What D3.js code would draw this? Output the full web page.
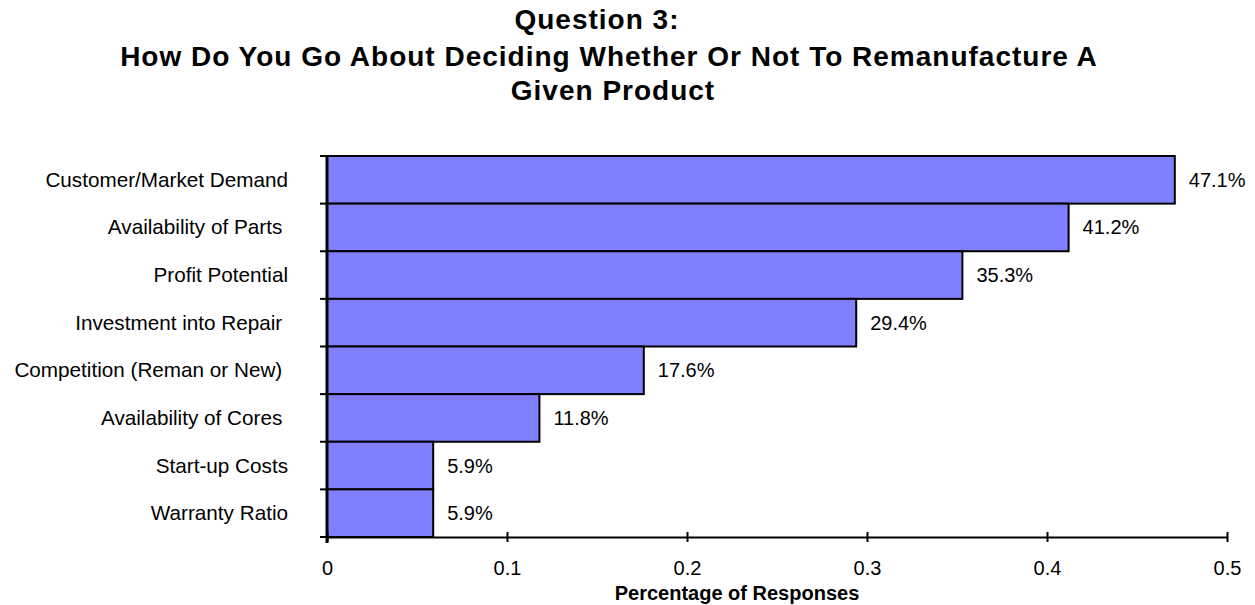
<!DOCTYPE html>
<html><head><meta charset="utf-8">
<script src="https://cdn.jsdelivr.net/npm/d3@7"></script>
<style>body{margin:0;background:#fff}svg{font-family:Arial,"Liberation Sans",sans-serif}</style>
</head><body>
<svg id="c" width="1255" height="605"></svg>
<script>
const categories = ["Customer/Market Demand","Availability of Parts ","Profit Potential","Investment into Repair ","Competition (Reman or New) ","Availability of Cores ","Start-up Costs","Warranty Ratio"];
const values = [0.471,0.412,0.353,0.294,0.176,0.118,0.059,0.059];
const valueLabels = ["47.1%","41.2%","35.3%","29.4%","17.6%","11.8%","5.9%","5.9%"];
const xTicks = [0,0.1,0.2,0.3,0.4,0.5];
const titleLines = ["Question 3:","How Do You Go About Deciding Whether Or Not To Remanufacture A","Given Product"];
const xTitle = "Percentage of Responses";

const svg = d3.select("#c");
const L=327, R=1227, T=156, B=537;
const x = d3.scaleLinear().domain([0,0.5]).range([L,R]);
const y = d3.scaleBand().domain(categories).range([T,B]).padding(0);

svg.append("g").selectAll("text").data(titleLines).join("text")
  .attr("x",(d,i)=>[597,609,613][i]).attr("y",(d,i)=>[29,66,100][i]).attr("text-anchor","middle")
  .attr("font-size",28).attr("font-weight","bold").attr("letter-spacing",1).text(d=>d);

svg.append("g").selectAll("rect").data(values).join("rect")
  .attr("x",x(0)).attr("y",(d,i)=>y(categories[i]))
  .attr("width",d=>x(d)-x(0)).attr("height",y.bandwidth())
  .attr("fill","#8080FF").attr("stroke","#000").attr("stroke-width",2);

svg.append("g").selectAll("text").data(values).join("text")
  .attr("x",d=>x(d)+14).attr("y",(d,i)=>y(categories[i])+y.bandwidth()/2+7)
  .attr("font-size",20).text((d,i)=>valueLabels[i]);

// y axis
const ya = svg.append("g").attr("transform",`translate(${L},0)`);
ya.append("line").attr("y1",T).attr("y2",B+6).attr("stroke","#000").attr("stroke-width",3);
const bounds = categories.map(c=>y(c)).concat([B]);
ya.selectAll("line.t").data(bounds).join("line").attr("class","t")
  .attr("x1",-7).attr("x2",(d,i)=>i===0?5:0).attr("y1",d=>d).attr("y2",d=>d)
  .attr("stroke","#000").attr("stroke-width",2);
ya.selectAll("text").data(categories).join("text")
  .attr("x",-39).attr("y",c=>y(c)+y.bandwidth()/2+7).attr("text-anchor","end")
  .attr("font-size",20.7).attr("xml:space","preserve").style("white-space","pre").text(c=>c);

// x axis
const xa = svg.append("g").attr("transform",`translate(0,${B})`)
  .call(d3.axisBottom(x).tickValues(xTicks).tickSize(5).tickSizeOuter(0).tickFormat(d=>d===0?"0":String(d)));
xa.select(".domain").attr("stroke-width",2);
xa.selectAll(".tick line").attr("y1",-5).attr("y2",5).attr("stroke-width",2);
xa.selectAll(".tick text").attr("font-size",20).attr("font-family","Arial, Liberation Sans, sans-serif").attr("fill","#000").attr("dy",0).attr("y",38);

svg.append("text").attr("x",737).attr("y",600).attr("text-anchor","middle")
  .attr("font-size",20).attr("font-weight","bold").text(xTitle);
</script>
</body></html>
